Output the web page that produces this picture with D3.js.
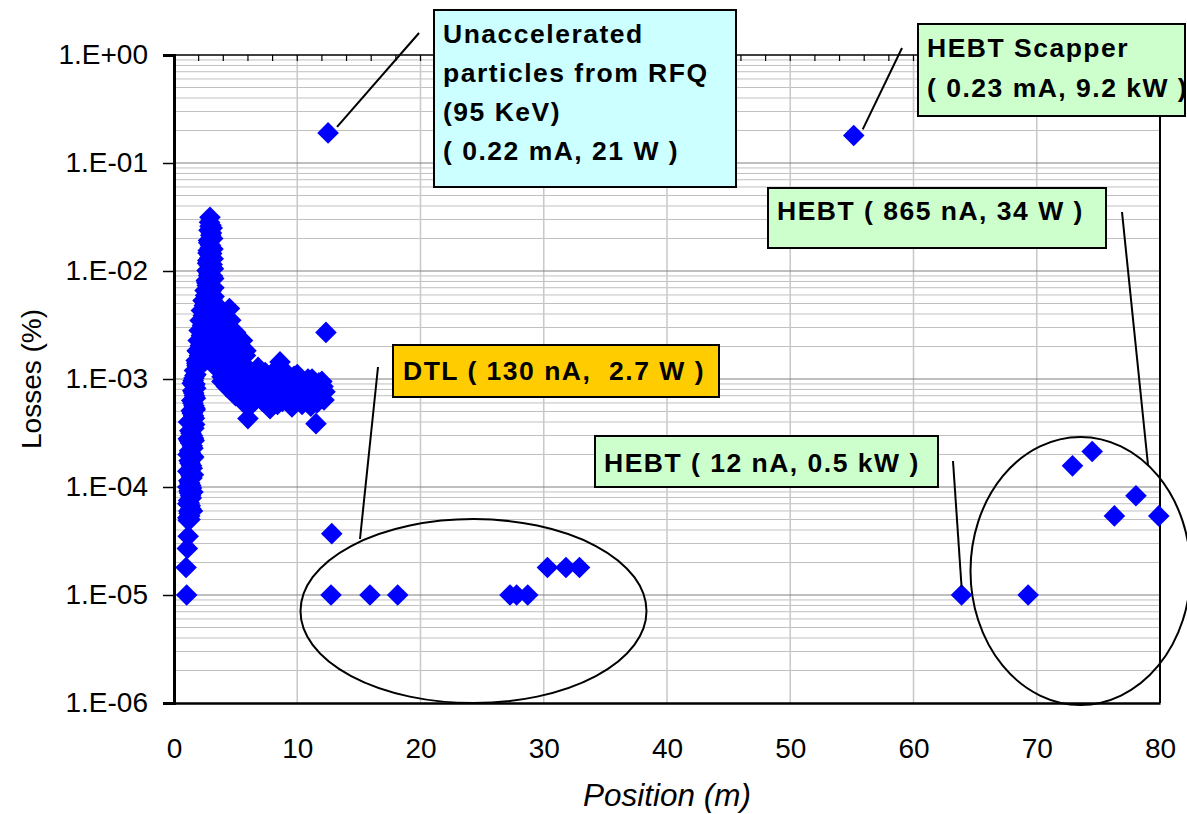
<!DOCTYPE html>
<html>
<head>
<meta charset="utf-8">
<script src="https://cdn.jsdelivr.net/npm/d3@7"></script>
<style>
  body { margin: 0; background: #fff; }
  svg { display: block; font-family: "Liberation Sans", Arial, sans-serif; }
</style>
</head>
<body>
<svg id="chart" width="1187" height="814"></svg>
<script>
// ---- Beam loss data: position along the linac (m) and loss fraction (%) ----

// RFQ / MEBT region (dense loss profile)
const rfqPos = [
  1.03, 0.98, 1.08, 1.15, 1.16, 1.28, 1.20, 1.32, 1.18, 1.34,
  1.22, 1.36, 1.20, 1.38, 1.24, 1.42, 1.22, 1.44, 1.26, 1.48,
  1.24, 1.50, 1.28, 1.54, 1.32, 1.58, 1.40, 1.62, 1.44, 1.66,
  1.52, 1.64, 1.56, 1.70, 1.66, 1.86, 1.80, 2.06, 1.88, 2.14,
  1.96, 2.22, 2.04, 2.30, 2.12, 2.38, 2.22, 2.46, 2.36, 2.56,
  2.52, 2.70, 2.62, 2.80, 2.68, 2.86, 2.74, 2.92, 2.78, 2.96,
  2.80, 2.98, 2.84, 3.00, 2.88, 2.92, 3.10, 3.14, 3.16, 3.18,
  3.20, 3.22, 3.24, 3.25, 3.35, 3.60, 4.50, 3.80, 4.10, 4.40,
  5.56, 4.80, 5.20, 4.70, 4.30, 3.90, 3.89, 4.25, 4.99, 5.30,
  2.70, 3.00, 2.60, 3.00, 3.40, 2.50, 3.50, 3.10, 2.40, 3.30,
  4.00, 2.80, 3.60, 3.20, 4.60, 5.00,
  1.30, 1.22, 1.36, 1.24, 1.40, 1.26, 1.42, 1.28, 1.46, 1.30,
  1.48, 1.30, 1.52, 1.34, 1.54, 1.34, 1.58, 1.38, 1.62, 1.42,
  1.66, 1.48, 1.70, 1.54, 1.74, 1.60, 1.76, 1.48, 1.62,
  1.12, 1.12, 1.12, 1.12, 1.14, 1.16, 1.18,
  1.50, 1.54, 1.58, 1.60, 1.64, 1.68, 1.72,
  2.40, 2.28, 2.10, 1.95, 1.85, 1.78, 1.70,
  2.60, 2.74, 2.66, 2.84, 2.72, 2.90, 2.76, 2.94, 2.82, 3.04,
  2.92, 3.06, 3.10, 3.12, 3.00, 3.10, 2.90, 2.96, 2.90,
  2.50, 2.80, 2.55, 2.90, 2.30, 2.65, 3.00, 2.20, 2.50,
  3.80, 4.20, 3.70, 4.40, 3.90, 4.60, 5.10, 4.60,
  5.03, 5.35, 5.68, 5.84, 6.00, 6.00, 6.17, 6.33, 6.57, 6.82,
  6.82, 7.14, 7.30, 7.63, 7.79, 7.95, 8.28, 8.60, 8.60, 8.92,
  9.01, 9.25, 9.57, 9.74, 9.98, 10.22, 10.39, 10.63, 10.87, 11.03,
  11.20, 11.36, 11.52, 11.60, 11.76, 11.93, 12.09, 12.17, 12.25,
  5.60, 6.40, 5.80, 7.00, 7.60, 8.00, 8.90, 9.40, 10.00, 10.60,
  11.40, 5.80,
  5.40, 6.10, 6.60, 7.20, 7.40, 8.20, 8.40, 9.10, 9.60, 10.40,
  10.90, 11.10, 11.70, 12.00, 6.50, 8.80, 10.00,
  12.33, 12.50
];
const rfqLoss = [
  1.0e-5, 1.8e-5, 2.7e-5, 3.5e-5, 4.9e-5, 5.4e-5, 6.0e-5, 6.7e-5, 7.5e-5, 8.3e-5,
  9.2e-5, 1.03e-4, 1.14e-4, 1.27e-4, 1.41e-4, 1.57e-4, 1.75e-4, 1.95e-4, 2.17e-4, 2.41e-4,
  2.68e-4, 2.98e-4, 3.32e-4, 3.69e-4, 4.11e-4, 4.57e-4, 5.09e-4, 5.66e-4, 6.31e-4, 7.01e-4,
  7.80e-4, 8.69e-4, 9.66e-4, 1.08e-3, 1.20e-3, 1.33e-3, 1.48e-3, 1.65e-3, 1.83e-3, 2.04e-3,
  2.27e-3, 2.53e-3, 2.81e-3, 3.13e-3, 3.48e-3, 3.87e-3, 4.31e-3, 4.79e-3, 5.33e-3, 5.93e-3,
  6.61e-3, 7.35e-3, 8.18e-3, 9.10e-3, 1.01e-2, 1.13e-2, 1.25e-2, 1.40e-2, 1.55e-2, 1.73e-2,
  1.92e-2, 2.14e-2, 2.38e-2, 2.65e-2, 2.82e-2, 3.14e-2, 2.50e-2, 2.00e-2, 1.60e-2, 1.30e-2,
  1.05e-2, 8.5e-3, 7.0e-3, 5.8e-3, 5.0e-3, 4.2e-3, 4.5e-3, 3.6e-3, 3.0e-3, 2.6e-3,
  2.27e-3, 2.0e-3, 1.7e-3, 1.5e-3, 1.25e-3, 1.05e-3, 9.5e-4, 8.5e-4, 7.0e-4, 8.0e-4,
  4.5e-3, 3.8e-3, 3.2e-3, 2.8e-3, 3.3e-3, 2.4e-3, 2.5e-3, 2.2e-3, 1.9e-3, 1.9e-3,
  2.2e-3, 1.6e-3, 1.6e-3, 1.35e-3, 3.5e-3, 2.7e-3,
  5.0e-5, 5.7e-5, 6.3e-5, 7.1e-5, 7.9e-5, 8.8e-5, 9.8e-5, 1.09e-4, 1.21e-4, 1.34e-4,
  1.49e-4, 1.66e-4, 1.85e-4, 2.06e-4, 2.29e-4, 2.55e-4, 2.83e-4, 3.15e-4, 3.50e-4, 3.90e-4,
  4.34e-4, 4.83e-4, 5.37e-4, 5.97e-4, 6.65e-4, 7.40e-4, 8.23e-4, 9.15e-4, 1.02e-3,
  5.2e-5, 7.0e-5, 1.0e-4, 1.4e-4, 2.0e-4, 2.8e-4, 4.0e-4,
  6.0e-5, 9.0e-5, 1.3e-4, 1.9e-4, 2.7e-4, 3.8e-4, 5.2e-4,
  5.3e-3, 3.5e-3, 2.3e-3, 1.8e-3, 1.4e-3, 1.1e-3, 9.0e-4,
  5.0e-3, 6.2e-3, 7.8e-3, 9.6e-3, 1.18e-2, 1.32e-2, 1.47e-2, 1.64e-2, 1.83e-2, 2.25e-2,
  2.60e-2, 1.45e-2, 1.15e-2, 9.0e-3, 6.5e-3, 5.5e-3, 5.0e-3, 1.10e-2, 8.0e-3,
  4.2e-3, 3.5e-3, 2.8e-3, 2.5e-3, 2.2e-3, 2.0e-3, 1.75e-3, 1.6e-3, 1.45e-3,
  2.8e-3, 2.3e-3, 1.95e-3, 1.8e-3, 1.45e-3, 1.15e-3, 9.0e-4, 8.0e-4,
  1.13e-3, 8.7e-4, 1.36e-3, 1.83e-3, 4.3e-4, 7.0e-4, 5.66e-4, 9.66e-4, 1.13e-3, 1.28e-3,
  7.8e-4, 6.3e-4, 1.0e-3, 8.2e-4, 5.3e-4, 1.13e-3, 7.0e-4, 1.44e-3, 9.7e-4, 1.2e-3,
  6.6e-4, 8.7e-4, 5.5e-4, 1.06e-3, 7.4e-4, 9.7e-4, 5.8e-4, 8.1e-4, 1.0e-3, 6.6e-4,
  1.0e-3, 7.8e-4, 3.86e-4, 6.0e-4, 9.2e-4, 7.2e-4, 8.5e-4, 6.4e-4, 7.6e-4,
  1.0e-3, 7.5e-4, 5.8e-4, 9.0e-4, 6.4e-4, 8.4e-4, 8.0e-4, 6.8e-4, 1.1e-3, 6.6e-4,
  9.0e-4, 1.65e-3,
  1.2e-3, 1.1e-3, 8.8e-4, 7.5e-4, 1.15e-3, 1.0e-3, 5.8e-4, 1.05e-3, 8.5e-4, 7.2e-4,
  8.4e-4, 5.6e-4, 7.0e-4, 9.5e-4, 6.2e-4, 6.2e-4, 6.2e-4,
  2.7e-3, 0.19
];

// DTL region
const dtlPos  = [12.80, 12.74, 15.90, 18.15, 27.26, 27.80, 28.70, 30.30, 31.80, 32.90];
const dtlLoss = [3.7e-5, 1.0e-5, 1.0e-5, 1.0e-5, 1.0e-5, 1.0e-5, 1.0e-5, 1.8e-5, 1.8e-5, 1.8e-5];

// HEBT region
const hebtPos  = [55.15, 63.90, 69.30, 72.90, 74.50, 76.30, 78.05, 79.90];
const hebtLoss = [0.18, 1.0e-5, 1.0e-5, 1.57e-4, 2.13e-4, 5.4e-5, 8.3e-5, 5.4e-5];

// Axis ticks
const xTicks = [0, 10, 20, 30, 40, 50, 60, 70, 80];
const yTicks = [1, 1e-1, 1e-2, 1e-3, 1e-4, 1e-5, 1e-6];
const yTickLabels = ["1.E+00", "1.E-01", "1.E-02", "1.E-03", "1.E-04", "1.E-05", "1.E-06"];

// ---- Layout ----
const svg = d3.select("#chart");
const plot = { left: 174, right: 1160, top: 55, bottom: 703 };

const x = d3.scaleLinear().domain([0, 80]).range([plot.left, plot.right]);
const y = d3.scaleLog().domain([1e-6, 1]).range([plot.bottom, plot.top]);

const points = []
  .concat(rfqPos.map((p, i) => ({ pos: p, loss: rfqLoss[i] })))
  .concat(dtlPos.map((p, i) => ({ pos: p, loss: dtlLoss[i] })))
  .concat(hebtPos.map((p, i) => ({ pos: p, loss: hebtLoss[i] })));

// ---- Grid ----
const grid = svg.append("g");
const minorY = [];
for (let e = -6; e < 0; e++) for (let m = 2; m <= 9; m++) minorY.push(m * Math.pow(10, e));

grid.selectAll("line.minor").data(minorY).join("line")
  .attr("x1", plot.left).attr("x2", plot.right)
  .attr("y1", d => y(d)).attr("y2", d => y(d))
  .attr("stroke", "#c0c0c0").attr("stroke-width", 1);

grid.selectAll("line.vert").data(xTicks.slice(1, -1)).join("line")
  .attr("x1", d => x(d)).attr("x2", d => x(d))
  .attr("y1", plot.top).attr("y2", plot.bottom)
  .attr("stroke", "#c8c8c8").attr("stroke-width", 1.5);

grid.selectAll("line.major").data(yTicks.slice(1, -1)).join("line")
  .attr("x1", plot.left).attr("x2", plot.right)
  .attr("y1", d => y(d)).attr("y2", d => y(d))
  .attr("stroke", "#808080").attr("stroke-width", 1.2);

// Frame (top and right)
svg.append("line").attr("x1", plot.left).attr("x2", plot.right)
  .attr("y1", plot.top).attr("y2", plot.top).attr("stroke", "#000").attr("stroke-width", 1.5);
svg.append("line").attr("x1", plot.right).attr("x2", plot.right)
  .attr("y1", plot.top).attr("y2", plot.bottom).attr("stroke", "#000").attr("stroke-width", 2);

// Secondary minor ticks along the top edge
const topTicks = d3.range(0, 81, 2);
svg.append("g").selectAll("line").data(topTicks).join("line")
  .attr("x1", d => x(d)).attr("x2", d => x(d))
  .attr("y1", plot.top).attr("y2", plot.top + 6)
  .attr("stroke", "#000").attr("stroke-width", 1.2);

// ---- Axes ----
const yAxis = svg.append("g")
  .attr("transform", `translate(${plot.left},0)`)
  .call(d3.axisLeft(y).tickValues(yTicks)
    .tickFormat((d, i) => yTickLabels[i]).tickSize(11).tickPadding(15));
yAxis.select(".domain").attr("stroke", "#000").attr("stroke-width", 3);
yAxis.selectAll(".tick line").attr("stroke", "#000").attr("stroke-width", 1.5);
yAxis.selectAll("text").attr("font-size", 28).attr("fill", "#000")
  .attr("font-family", "'Liberation Sans', Arial, sans-serif");

const xAxis = svg.append("g")
  .attr("transform", `translate(0,${plot.bottom})`)
  .call(d3.axisBottom(x).tickValues(xTicks).tickSize(0).tickPadding(35));
xAxis.select(".domain").attr("stroke", "#000").attr("stroke-width", 2.5);
xAxis.selectAll("text").attr("font-size", 28).attr("fill", "#000")
  .attr("font-family", "'Liberation Sans', Arial, sans-serif");

// Axis titles
svg.append("text")
  .attr("transform", `translate(41,${(plot.top + plot.bottom) / 2}) rotate(-90)`)
  .attr("text-anchor", "middle").attr("font-size", 28).attr("fill", "#000")
  .text("Losses (%)");
svg.append("text")
  .attr("x", (plot.left + plot.right) / 2).attr("y", 806)
  .attr("text-anchor", "middle").attr("font-size", 31.5).attr("font-style", "italic")
  .attr("fill", "#000").text("Position (m)");

// ---- Ellipses around the DTL and HEBT loss groups ----
const ellipses = [
  { cx: 24.3, cy: 7.1e-6, rx: 173, ry: 92 },
  { cx: 73.55, cy: 1.67e-5, rx: 110, ry: 134 }
];
svg.append("g").selectAll("ellipse").data(ellipses).join("ellipse")
  .attr("cx", d => x(d.cx)).attr("cy", d => y(d.cy))
  .attr("rx", d => d.rx).attr("ry", d => d.ry)
  .attr("fill", "none").attr("stroke", "#000").attr("stroke-width", 2);

// ---- Markers ----
const r = 10.8;
const diamond = `M0,${-r}L${r},0L0,${r}L${-r},0Z`;
svg.append("g").selectAll("path").data(points).join("path")
  .attr("d", diamond)
  .attr("transform", d => `translate(${x(d.pos)},${y(d.loss)})`)
  .attr("fill", "#0000ff");

// ---- Callouts ----
const callouts = [
  { box: [434, 10, 302, 177], fill: "#ccffff", tx: 443, lines: ["Unaccelerated", "particles from RFQ", "(95 KeV)", "( 0.22 mA, 21 W )"], base: 43, lh: 38.9,
    lead: [[419, 33], [x(12.5) + 9, y(0.19) - 6]] },
  { box: [918, 24, 267, 92], fill: "#ccffcc", tx: 927, lines: ["HEBT Scapper", "( 0.23 mA, 9.2 kW )"], base: 57, lh: 40,
    lead: [[902, 48], [x(55.15) + 9, y(0.18) - 6]] },
  { box: [768, 188, 338, 60], fill: "#ccffcc", tx: 777, lines: ["HEBT ( 865 nA, 34 W )"], base: 220, lh: 40,
    lead: [[1122, 212], [1148, 465]] },
  { box: [393, 345, 326, 52], fill: "#ffcc00", tx: 403, lines: ["DTL ( 130 nA,  2.7 W )"], base: 380, lh: 40,
    lead: [[378, 367], [360, 539]] },
  { box: [595, 436, 343, 51], fill: "#ccffcc", tx: 604, lines: ["HEBT ( 12 nA, 0.5 kW )"], base: 472, lh: 40,
    lead: [[953, 461], [x(63.9), y(1e-5) - 8]] }
];

const cg = svg.append("g");
callouts.forEach(c => {
  cg.append("line")
    .attr("x1", c.lead[0][0]).attr("y1", c.lead[0][1])
    .attr("x2", c.lead[1][0]).attr("y2", c.lead[1][1])
    .attr("stroke", "#000").attr("stroke-width", 2);
});
callouts.forEach(c => {
  cg.append("rect")
    .attr("x", c.box[0]).attr("y", c.box[1]).attr("width", c.box[2]).attr("height", c.box[3])
    .attr("fill", c.fill).attr("stroke", "#000").attr("stroke-width", 2);
  const t = cg.append("text")
    .attr("font-size", 26.5).attr("font-weight", "bold").attr("letter-spacing", 1.5)
    .attr("fill", "#000").style("white-space", "pre");
  c.lines.forEach((ln, i) => {
    t.append("tspan").attr("x", c.tx).attr("y", c.base + i * c.lh).text(ln);
  });
});
</script>
</body>
</html>
